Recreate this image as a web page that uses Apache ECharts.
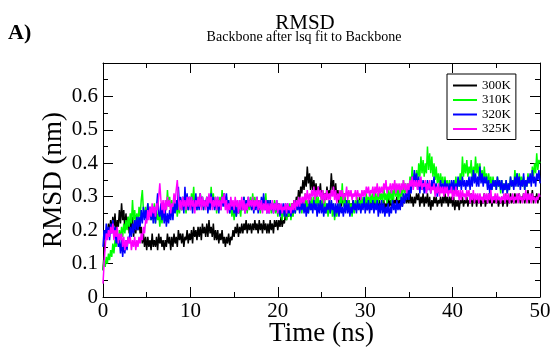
<!DOCTYPE html>
<html>
<head>
<meta charset="utf-8">
<script src="https://cdn.jsdelivr.net/npm/echarts@6/dist/echarts.min.js"></script>
<style>html,body{margin:0;padding:0;background:#fff;}#c{width:553px;height:348px;}</style>
</head>
<body>
<div id="c"></div>
<script>
// sampling grid: one value every 0.125 ns, 0..50 ns
const timeStep = 0.125;
const seriesNames = ['300K', '310K', '320K', '325K'];
const xTicks = [0, 10, 20, 30, 40, 50];
const yTicks = [0, 0.1, 0.2, 0.3, 0.4, 0.5, 0.6];

const rmsd300 = [
0.08,0.13,0.17,0.20,0.18,0.22,0.19,0.23, 0.20,0.24,0.21,0.25,0.19,0.23,0.21,0.26,
0.22,0.28,0.23,0.26,0.20,0.25,0.21,0.24, 0.19,0.23,0.20,0.24,0.18,0.22,0.19,0.23,
0.20,0.23,0.19,0.21,0.16,0.19,0.15,0.18, 0.14,0.18,0.15,0.17,0.14,0.19,0.15,0.17,
0.15,0.18,0.14,0.19,0.16,0.18,0.15,0.17, 0.14,0.17,0.15,0.19,0.16,0.18,0.14,0.18,
0.15,0.19,0.16,0.18,0.15,0.20,0.17,0.19, 0.16,0.19,0.15,0.18,0.17,0.20,0.16,0.19,
0.17,0.20,0.16,0.21,0.18,0.20,0.17,0.21, 0.18,0.21,0.17,0.22,0.19,0.21,0.18,0.22,
0.18,0.23,0.19,0.21,0.18,0.22,0.17,0.20, 0.17,0.20,0.16,0.19,0.17,0.20,0.16,0.18,
0.15,0.18,0.16,0.19,0.155,0.18,0.17,0.20, 0.18,0.21,0.19,0.22,0.18,0.21,0.19,0.22,
0.19,0.22,0.20,0.23,0.19,0.22,0.20,0.22, 0.19,0.22,0.20,0.23,0.20,0.22,0.19,0.23,
0.20,0.22,0.19,0.23,0.20,0.22,0.19,0.22, 0.19,0.23,0.20,0.22,0.19,0.23,0.21,0.23,
0.20,0.23,0.21,0.24,0.21,0.23,0.22,0.25, 0.23,0.26,0.24,0.27,0.25,0.28,0.26,0.29,
0.27,0.30,0.28,0.32,0.29,0.33,0.31,0.35, 0.32,0.36,0.33,0.39,0.34,0.37,0.32,0.36,
0.32,0.35,0.31,0.34,0.30,0.33,0.31,0.34, 0.29,0.32,0.28,0.31,0.29,0.33,0.30,0.32,
0.31,0.37,0.32,0.35,0.30,0.34,0.29,0.32, 0.28,0.31,0.27,0.30,0.28,0.31,0.27,0.29,
0.27,0.29,0.26,0.28,0.27,0.29,0.26,0.28, 0.26,0.29,0.27,0.30,0.26,0.28,0.27,0.29,
0.27,0.29,0.26,0.28,0.27,0.30,0.27,0.29, 0.26,0.29,0.27,0.30,0.27,0.29,0.26,0.28,
0.27,0.29,0.26,0.28,0.27,0.30,0.27,0.29, 0.27,0.30,0.27,0.29,0.28,0.30,0.27,0.29,
0.28,0.30,0.27,0.30,0.28,0.31,0.28,0.30, 0.28,0.31,0.28,0.30,0.27,0.30,0.28,0.31,
0.29,0.31,0.27,0.30,0.28,0.31,0.27,0.30, 0.28,0.31,0.27,0.30,0.26,0.29,0.27,0.30,
0.28,0.30,0.27,0.29,0.28,0.30,0.27,0.30, 0.28,0.31,0.28,0.30,0.27,0.30,0.28,0.30,
0.27,0.30,0.26,0.29,0.27,0.29,0.26,0.29, 0.28,0.30,0.27,0.29,0.28,0.30,0.27,0.29,
0.28,0.31,0.27,0.30,0.28,0.30,0.27,0.30, 0.28,0.30,0.27,0.29,0.28,0.31,0.27,0.29,
0.28,0.31,0.28,0.30,0.27,0.30,0.28,0.30, 0.28,0.30,0.27,0.29,0.28,0.30,0.27,0.29,
0.28,0.31,0.27,0.30,0.28,0.31,0.28,0.30, 0.28,0.31,0.28,0.30,0.29,0.31,0.28,0.30,
0.29,0.31,0.28,0.30,0.29,0.32,0.28,0.30, 0.29,0.32,0.28,0.30,0.29,0.31,0.28,0.30,
0.29
];
const rmsd310 = [
0.08,0.11,0.09,0.12,0.10,0.13,0.11,0.14, 0.12,0.16,0.13,0.17,0.15,0.18,0.16,0.20,
0.17,0.21,0.18,0.22,0.19,0.23,0.20,0.24, 0.21,0.25,0.22,0.29,0.23,0.26,0.22,0.25,
0.22,0.27,0.24,0.29,0.32,0.26,0.24,0.27, 0.23,0.28,0.24,0.27,0.23,0.26,0.24,0.28,
0.22,0.26,0.23,0.25,0.21,0.25,0.22,0.26, 0.24,0.28,0.26,0.32,0.27,0.30,0.26,0.29,
0.25,0.29,0.26,0.28,0.24,0.28,0.25,0.29, 0.26,0.30,0.27,0.29,0.25,0.29,0.26,0.30,
0.27,0.31,0.28,0.33,0.27,0.30,0.26,0.30, 0.27,0.31,0.28,0.30,0.26,0.29,0.27,0.30,
0.26,0.30,0.27,0.33,0.28,0.31,0.27,0.30, 0.25,0.29,0.26,0.30,0.27,0.32,0.28,0.31,
0.27,0.30,0.26,0.29,0.25,0.28,0.24,0.27, 0.23,0.27,0.24,0.28,0.25,0.27,0.24,0.28,
0.26,0.30,0.27,0.29,0.25,0.29,0.26,0.30, 0.26,0.31,0.27,0.30,0.27,0.29,0.26,0.29,
0.25,0.29,0.26,0.30,0.27,0.31,0.26,0.29, 0.26,0.29,0.25,0.28,0.26,0.29,0.25,0.28,
0.24,0.28,0.25,0.27,0.23,0.27,0.24,0.27, 0.23,0.27,0.24,0.28,0.23,0.26,0.24,0.28,
0.25,0.29,0.26,0.30,0.26,0.29,0.25,0.29, 0.27,0.31,0.26,0.29,0.25,0.29,0.26,0.30,
0.26,0.30,0.27,0.31,0.27,0.30,0.26,0.29, 0.27,0.30,0.26,0.29,0.25,0.28,0.24,0.28,
0.25,0.29,0.24,0.28,0.23,0.27,0.24,0.28, 0.25,0.30,0.28,0.34,0.27,0.30,0.26,0.29,
0.26,0.29,0.25,0.28,0.24,0.28,0.25,0.29, 0.26,0.30,0.27,0.29,0.26,0.30,0.27,0.30,
0.27,0.31,0.28,0.30,0.27,0.31,0.28,0.31, 0.28,0.32,0.27,0.31,0.28,0.32,0.29,0.31,
0.28,0.33,0.29,0.31,0.28,0.32,0.29,0.32, 0.28,0.32,0.29,0.34,0.30,0.33,0.29,0.33,
0.29,0.33,0.30,0.35,0.31,0.34,0.30,0.34, 0.31,0.36,0.33,0.39,0.34,0.37,0.33,0.38,
0.34,0.40,0.36,0.42,0.37,0.41,0.36,0.40, 0.37,0.45,0.38,0.43,0.37,0.42,0.36,0.40,
0.35,0.39,0.34,0.37,0.33,0.37,0.34,0.36, 0.32,0.36,0.33,0.35,0.31,0.35,0.32,0.34,
0.31,0.35,0.32,0.36,0.32,0.35,0.33,0.37, 0.34,0.42,0.36,0.40,0.37,0.41,0.36,0.39,
0.37,0.41,0.35,0.39,0.36,0.42,0.37,0.40, 0.36,0.40,0.35,0.38,0.34,0.39,0.35,0.37,
0.33,0.37,0.34,0.36,0.32,0.36,0.33,0.35, 0.32,0.36,0.33,0.35,0.31,0.35,0.32,0.34,
0.32,0.35,0.31,0.34,0.32,0.36,0.33,0.35, 0.33,0.38,0.34,0.37,0.33,0.37,0.34,0.36,
0.33,0.36,0.32,0.35,0.33,0.37,0.34,0.36, 0.34,0.39,0.36,0.40,0.37,0.43,0.38,0.41,
0.40
];
const rmsd320 = [
0.15,0.20,0.17,0.22,0.18,0.21,0.17,0.22, 0.19,0.23,0.18,0.21,0.16,0.19,0.15,0.17,
0.13,0.17,0.12,0.16,0.13,0.17,0.14,0.18, 0.17,0.21,0.18,0.22,0.19,0.23,0.20,0.24,
0.20,0.24,0.21,0.26,0.22,0.27,0.23,0.26, 0.23,0.28,0.24,0.27,0.23,0.26,0.22,0.27,
0.22,0.27,0.31,0.25,0.24,0.28,0.23,0.27, 0.22,0.26,0.21,0.25,0.22,0.26,0.23,0.27,
0.23,0.28,0.25,0.29,0.26,0.33,0.27,0.30, 0.26,0.30,0.25,0.33,0.27,0.31,0.26,0.30,
0.26,0.30,0.25,0.29,0.27,0.31,0.26,0.29, 0.26,0.31,0.27,0.30,0.26,0.29,0.27,0.30,
0.25,0.29,0.26,0.31,0.27,0.30,0.26,0.29, 0.26,0.30,0.25,0.29,0.26,0.30,0.27,0.31,
0.27,0.31,0.26,0.29,0.25,0.29,0.26,0.28, 0.25,0.28,0.24,0.27,0.25,0.29,0.26,0.28,
0.26,0.30,0.25,0.29,0.26,0.30,0.27,0.29, 0.26,0.29,0.25,0.28,0.26,0.30,0.25,0.29,
0.26,0.30,0.27,0.31,0.26,0.29,0.25,0.29, 0.25,0.29,0.26,0.28,0.25,0.28,0.26,0.29,
0.25,0.28,0.24,0.27,0.25,0.28,0.24,0.28, 0.24,0.28,0.25,0.27,0.24,0.27,0.25,0.28,
0.25,0.29,0.26,0.28,0.25,0.28,0.26,0.29, 0.25,0.28,0.24,0.27,0.25,0.29,0.26,0.28,
0.25,0.29,0.26,0.28,0.24,0.28,0.25,0.29, 0.25,0.28,0.24,0.27,0.25,0.28,0.26,0.29,
0.25,0.29,0.26,0.28,0.24,0.28,0.25,0.28, 0.24,0.28,0.25,0.27,0.24,0.28,0.25,0.29,
0.25,0.28,0.24,0.27,0.25,0.29,0.26,0.28, 0.25,0.29,0.26,0.28,0.25,0.28,0.26,0.30,
0.25,0.28,0.26,0.29,0.25,0.28,0.26,0.29, 0.25,0.28,0.26,0.29,0.24,0.28,0.25,0.29,
0.25,0.28,0.24,0.27,0.25,0.28,0.24,0.27, 0.25,0.29,0.26,0.28,0.25,0.29,0.26,0.28,
0.26,0.30,0.27,0.31,0.28,0.31,0.29,0.33, 0.29,0.34,0.31,0.36,0.33,0.38,0.34,0.37,
0.32,0.36,0.31,0.35,0.32,0.35,0.31,0.34, 0.31,0.35,0.32,0.34,0.31,0.35,0.32,0.36,
0.31,0.34,0.30,0.33,0.31,0.35,0.32,0.34, 0.31,0.35,0.32,0.34,0.31,0.34,0.32,0.35,
0.32,0.35,0.31,0.34,0.32,0.36,0.33,0.35, 0.32,0.36,0.33,0.35,0.32,0.35,0.33,0.36,
0.32,0.36,0.33,0.38,0.34,0.37,0.33,0.36, 0.33,0.39,0.34,0.37,0.33,0.36,0.34,0.36,
0.32,0.35,0.31,0.34,0.32,0.35,0.33,0.35, 0.32,0.36,0.33,0.35,0.32,0.35,0.31,0.34,
0.32,0.35,0.31,0.34,0.32,0.36,0.33,0.35, 0.32,0.36,0.33,0.37,0.33,0.36,0.32,0.35,
0.33,0.37,0.32,0.35,0.33,0.36,0.34,0.37, 0.33,0.38,0.34,0.36,0.33,0.37,0.35,0.38,
0.34
];
const rmsd325 = [
0.04,0.10,0.15,0.19,0.17,0.20,0.18,0.21, 0.19,0.22,0.17,0.20,0.18,0.21,0.16,0.19,
0.17,0.19,0.15,0.18,0.14,0.17,0.15,0.18, 0.16,0.18,0.14,0.17,0.15,0.18,0.14,0.17,
0.15,0.18,0.16,0.19,0.17,0.21,0.19,0.23, 0.22,0.26,0.23,0.27,0.24,0.28,0.25,0.27,
0.24,0.28,0.26,0.30,0.34,0.29,0.26,0.29, 0.25,0.29,0.26,0.30,0.27,0.29,0.25,0.28,
0.27,0.31,0.28,0.32,0.35,0.30,0.26,0.29, 0.26,0.30,0.27,0.29,0.26,0.30,0.27,0.30,
0.26,0.30,0.27,0.29,0.25,0.29,0.27,0.30, 0.27,0.31,0.26,0.30,0.27,0.29,0.26,0.30,
0.27,0.31,0.28,0.30,0.26,0.29,0.27,0.30, 0.26,0.30,0.27,0.29,0.26,0.30,0.28,0.31,
0.26,0.29,0.25,0.28,0.26,0.30,0.27,0.29, 0.26,0.30,0.27,0.29,0.25,0.29,0.26,0.30,
0.26,0.29,0.25,0.28,0.26,0.30,0.27,0.29, 0.27,0.30,0.26,0.29,0.27,0.30,0.26,0.29,
0.26,0.29,0.25,0.28,0.26,0.29,0.25,0.28, 0.25,0.28,0.26,0.29,0.25,0.28,0.26,0.29,
0.25,0.28,0.26,0.28,0.25,0.27,0.26,0.28, 0.25,0.28,0.26,0.27,0.25,0.28,0.26,0.29,
0.26,0.29,0.27,0.30,0.27,0.30,0.28,0.30, 0.28,0.31,0.29,0.32,0.28,0.31,0.29,0.32,
0.30,0.33,0.29,0.32,0.30,0.33,0.30,0.32, 0.29,0.32,0.28,0.31,0.29,0.32,0.29,0.31,
0.29,0.32,0.30,0.33,0.29,0.32,0.28,0.31, 0.29,0.32,0.30,0.32,0.29,0.31,0.30,0.33,
0.29,0.32,0.30,0.32,0.29,0.31,0.30,0.32, 0.29,0.32,0.30,0.31,0.29,0.32,0.30,0.32,
0.30,0.33,0.31,0.33,0.30,0.32,0.31,0.33, 0.30,0.33,0.31,0.34,0.30,0.33,0.31,0.33,
0.31,0.34,0.32,0.35,0.31,0.33,0.32,0.34, 0.31,0.34,0.32,0.35,0.31,0.34,0.32,0.34,
0.31,0.34,0.32,0.35,0.32,0.34,0.31,0.34, 0.32,0.35,0.33,0.36,0.32,0.35,0.33,0.35,
0.32,0.35,0.33,0.36,0.32,0.34,0.33,0.35, 0.31,0.34,0.32,0.35,0.31,0.33,0.32,0.34,
0.30,0.33,0.31,0.34,0.30,0.33,0.31,0.33, 0.30,0.33,0.31,0.33,0.30,0.32,0.31,0.33,
0.29,0.32,0.30,0.33,0.30,0.32,0.29,0.32, 0.29,0.32,0.30,0.31,0.29,0.32,0.30,0.32,
0.28,0.31,0.29,0.32,0.28,0.31,0.29,0.31, 0.28,0.31,0.29,0.30,0.28,0.31,0.29,0.31,
0.28,0.31,0.29,0.32,0.28,0.30,0.29,0.31, 0.28,0.31,0.29,0.30,0.28,0.30,0.29,0.31,
0.28,0.31,0.29,0.31,0.28,0.30,0.29,0.31, 0.28,0.30,0.29,0.31,0.28,0.31,0.29,0.30,
0.28,0.31,0.29,0.32,0.28,0.31,0.29,0.31, 0.28,0.31,0.29,0.30,0.28,0.30,0.29,0.31,
0.30
];

const allValues = [rmsd300, rmsd310, rmsd320, rmsd325];
const colors = ['#000000', '#00ff00', '#0000ff', '#ff00ff'];
const FONT = "'Liberation Serif', 'Times New Roman', serif";

const chart = echarts.init(document.getElementById('c'), null, {renderer: 'canvas'});

const tickCommon = {
  axisLine: {show: true, onZero: false, lineStyle: {color: '#000', width: 1}},
  axisTick: {show: true, inside: true, length: 10, lineStyle: {color: '#000', width: 1}},
  minorTick: {show: true, splitNumber: 2, length: 5, lineStyle: {color: '#000', width: 1}},
  splitLine: {show: false},
  minorSplitLine: {show: false}
};

const yFmt = v => {
  if (v > yTicks[yTicks.length - 1] + 1e-9) return '';
  return v === 0 ? '0' : v.toFixed(1);
};

const option = {
  animation: false,
  backgroundColor: '#fff',
  grid: {left: 103, right: 13, top: 63, bottom: 51, containLabel: false, outerBoundsMode: 'none'},
  graphic: [
    {type: 'text', left: 8, top: 22, style: {text: 'A)', font: "bold 22px " + FONT, fill: '#000'}},
    {type: 'text', x: 305, y: 23, style: {text: 'RMSD', font: "21px " + FONT, fill: '#000', textAlign: 'center', textVerticalAlign: 'middle'}},
    {type: 'text', x: 304, y: 37, style: {text: 'Backbone after lsq fit to Backbone', font: "14px " + FONT, fill: '#000', textAlign: 'center', textVerticalAlign: 'middle'}}
  ],
  legend: {
    data: seriesNames,
    orient: 'vertical',
    left: 447, top: 74,
    padding: [5, 5, 4, 6],
    itemGap: 1.5,
    itemWidth: 24, itemHeight: 2,
    itemTextGap: 11,
    icon: 'rect',
    borderColor: '#000', borderWidth: 1,
    backgroundColor: '#fff',
    textStyle: {fontFamily: FONT, fontSize: 13, color: '#000', lineHeight: 13}
  },
  xAxis: [
    Object.assign({
      type: 'value', min: xTicks[0], max: xTicks[xTicks.length - 1], interval: 10,
      position: 'bottom',
      name: 'Time (ns)', nameLocation: 'middle', nameGap: 23, nameMoveOverlap: false,
      nameTextStyle: {fontFamily: FONT, fontSize: 27, color: '#000'},
      axisLabel: {fontFamily: FONT, fontSize: 21, color: '#000', margin: 4}
    }, tickCommon),
    Object.assign({
      type: 'value', min: xTicks[0], max: xTicks[xTicks.length - 1], interval: 10,
      position: 'top', axisLabel: {show: false}
    }, tickCommon)
  ],
  yAxis: [
    Object.assign({
      type: 'value', min: 0, max: 0.7, interval: 0.1,
      position: 'left',
      name: 'RMSD (nm)', nameLocation: 'middle', nameGap: 36, nameMoveOverlap: false,
      nameTextStyle: {fontFamily: FONT, fontSize: 27, color: '#000'},
      axisLabel: {fontFamily: FONT, fontSize: 21, color: '#000', margin: 5, formatter: yFmt}
    }, tickCommon),
    Object.assign({
      type: 'value', min: 0, max: 0.7, interval: 0.1,
      position: 'right', axisLabel: {show: false}
    }, tickCommon)
  ],
  series: seriesNames.map((name, k) => ({
    name: name,
    type: 'line',
    xAxisIndex: 0, yAxisIndex: 0,
    symbol: 'none',
    showSymbol: false,
    color: colors[k],
    lineStyle: {color: colors[k], width: 1.5},
    itemStyle: {color: colors[k]},
    data: allValues[k].map((v, i) => [i * timeStep, v])
  }))
};

chart.setOption(option);
</script>
</body>
</html>
